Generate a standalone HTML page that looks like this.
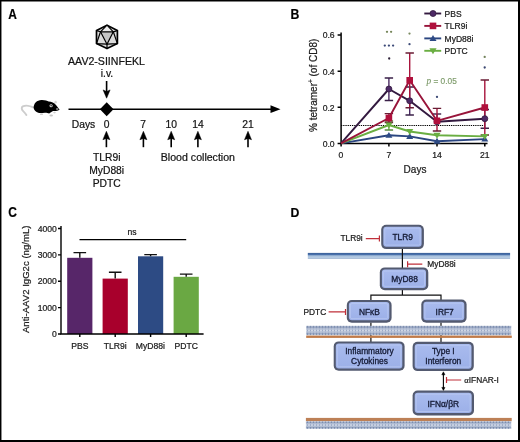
<!DOCTYPE html>
<html><head><meta charset="utf-8">
<style>
html,body{margin:0;padding:0;background:#fff;}
body{width:520px;height:442px;overflow:hidden;position:relative;}
svg{position:absolute;left:0;top:0;filter:blur(0.42px);}
text{font-family:"Liberation Sans",sans-serif;stroke:#1a1a1a;stroke-width:0.22px;}
</style></head><body>
<svg width="520" height="442" viewBox="0 0 520 442">
<rect x="0" y="0" width="520" height="442" fill="#fff"/>
<!-- ============ PANEL A ============ -->
<text transform="translate(8.2,19) scale(0.865,1)" font-size="13.8" font-weight="bold">A</text>
<!-- icosahedron -->
<g stroke="#000" stroke-linejoin="round">
  <polygon points="107,25.2 117.4,30.6 117.4,43.6 107,48.6 96.5,43.6 96.5,30.6" fill="#dcdcdc" stroke-width="1.7"/>
  <polygon points="107,25.2 113.3,31.8 100.5,31.8" fill="#ececec" stroke="none"/>
  <polygon points="100.5,31.8 113.3,31.8 107,44.2" fill="#c6c6c6" stroke-width="1.2"/>
  <path d="M107,25.2L100.5,31.8M107,25.2L113.3,31.8M96.5,30.6L100.5,31.8M117.4,30.6L113.3,31.8M96.5,43.6L100.5,31.8M96.5,43.6L107,44.2M117.4,43.6L113.3,31.8M117.4,43.6L107,44.2M107,48.6L107,44.2" fill="none" stroke-width="1.2"/>
</g>
<g font-size="10.3" fill="#111" text-anchor="middle">
  <text x="106.5" y="64.6" font-size="10.6">AAV2-SIINFEKL</text>
  <text x="107" y="77.2">i.v.</text>
</g>
<!-- down arrow -->
<path d="M106.6,81V93" stroke="#000" stroke-width="1.6"/>
<path d="M103.1,89.9L106.6,98.2L110.1,89.9L106.6,91.6Z" fill="#000" stroke="#000" stroke-width="0.5" stroke-linejoin="round"/>
<!-- mouse -->
<g>
  <path d="M33.8,107.6 C30.5,105.8 25.5,105.1 22.8,106.4 C21.2,107.4 21.4,109.6 23.4,111.4 C24.7,112.6 25.7,113.8 26.4,115" stroke="#cdcdcd" stroke-width="1.9" fill="none" stroke-linecap="round"/>
  <path d="M33.6,107.8 C33.8,103.2 36.8,100.2 41.5,100 C45,99.9 47.2,100.8 48.6,101.6 C51.5,101.6 54.2,102.8 56.2,105.2 L59.6,109.8 C58.2,110.9 55.8,111.2 53.2,111.1 C51.5,111.6 50.5,112.8 49.2,113.6 C47.8,113.2 46.6,112.6 45,112.7 C42.5,113 40,113.4 38.2,112.8 C36,112.2 34.2,110.6 33.6,107.8 Z" fill="#000"/>
  <circle cx="51.1" cy="105.7" r="1.55" fill="#e6e6e6"/>
  <circle cx="51.1" cy="105.7" r="0.75" fill="#000"/>
  <ellipse cx="57.2" cy="109" rx="1.3" ry="0.8" fill="#bdbdbd"/>
  <ellipse cx="55.6" cy="102.2" rx="1.2" ry="1.4" fill="#d6d6d6"/>
  <ellipse cx="51.2" cy="115.4" rx="1.8" ry="1" fill="#c8c8c8"/>
  <ellipse cx="41.5" cy="114.2" rx="1.6" ry="0.9" fill="#cfcfcf"/>
  <ellipse cx="54.5" cy="112.6" rx="1.3" ry="0.8" fill="#d0d0d0"/>
</g>
<!-- timeline -->
<path d="M68.5,109.2H277" stroke="#000" stroke-width="1.5"/>
<path d="M270.5,105.3L280.5,109.2L270.5,113.1Z" fill="#000"/>
<path d="M106.7,102.3L113.5,109.3L106.7,116.3L99.9,109.3Z" fill="#000"/>
<g font-size="10.3" fill="#111">
  <text x="71.8" y="127.8">Days</text>
  <g text-anchor="middle">
    <text x="106.7" y="127.8">0</text>
    <text x="143.1" y="127.8">7</text>
    <text x="171.2" y="127.8">10</text>
    <text x="197.9" y="127.8">14</text>
    <text x="248" y="127.8">21</text>
    <text x="106.7" y="161">TLR9i</text>
    <text x="106.7" y="174">MyD88i</text>
    <text x="106.7" y="187">PDTC</text>
  </g>
  <text x="160.8" y="160.5" font-size="10.6">Blood collection</text>
</g>
<path d="M106.4,136V147.2" stroke="#000" stroke-width="1.6"/>
<path d="M102.9,139.7L106.4,131.3L109.9,139.7L106.4,138.4Z" fill="#000" stroke="#000" stroke-width="0.5" stroke-linejoin="round"/>
<path d="M143.4,136V147.2" stroke="#000" stroke-width="1.6"/>
<path d="M139.9,139.7L143.4,131.3L146.9,139.7L143.4,138.4Z" fill="#000" stroke="#000" stroke-width="0.5" stroke-linejoin="round"/>
<path d="M171.2,136V147.2" stroke="#000" stroke-width="1.6"/>
<path d="M167.7,139.7L171.2,131.3L174.7,139.7L171.2,138.4Z" fill="#000" stroke="#000" stroke-width="0.5" stroke-linejoin="round"/>
<path d="M197.9,136V147.2" stroke="#000" stroke-width="1.6"/>
<path d="M194.4,139.7L197.9,131.3L201.4,139.7L197.9,138.4Z" fill="#000" stroke="#000" stroke-width="0.5" stroke-linejoin="round"/>
<path d="M248,136V147.2" stroke="#000" stroke-width="1.6"/>
<path d="M244.5,139.7L248,131.3L251.5,139.7L248,138.4Z" fill="#000" stroke="#000" stroke-width="0.5" stroke-linejoin="round"/>



<!-- ============ PANEL B ============ -->
<text transform="translate(290.5,18.5) scale(0.84,1)" font-size="14.6" font-weight="bold">B</text>
<!-- dashed 0.1 line -->
<path d="M341,125.5H484.5" stroke="#000" stroke-width="1.1" stroke-dasharray="1.3,0.9"/>
<!-- axes -->
<g stroke="#000" stroke-width="1.5" fill="none">
  <path d="M341.1,32.5V143.4H487.5"/>
  <path d="M337.6,35.1H341M337.6,71.2H341M337.6,107.3H341M337.6,143.4H341"/>
  <path d="M341.1,143.4V146.6M388.9,143.4V146.6M437,143.4V146.6M484.8,143.4V146.6"/>
</g>
<g font-size="8.6" fill="#222" text-anchor="end">
  <text x="334.6" y="38.4">0.6</text>
  <text x="334.6" y="74.5">0.4</text>
  <text x="334.6" y="110.6">0.2</text>
  <text x="334.6" y="146.7">0.0</text>
</g>
<g font-size="8.6" fill="#222" text-anchor="middle">
  <text x="341" y="158.2">0</text>
  <text x="388.9" y="158.2">7</text>
  <text x="437" y="158.2">14</text>
  <text x="484.8" y="158.2">21</text>
</g>
<text x="415" y="172.9" font-size="10" fill="#222" text-anchor="middle">Days</text>
<text transform="translate(316.8,85.3) rotate(-90)" font-size="10" fill="#222" text-anchor="middle">% tetramer<tspan font-size="6.5" dy="-3.5">+</tspan><tspan dy="3.5"> (of CD8)</tspan></text>
<!-- stars -->
<circle cx="387" cy="31.8" r="1.15" fill="#76865a"/>
<circle cx="391.1" cy="31.8" r="1.15" fill="#76865a"/>
<circle cx="384.8" cy="45.6" r="1.15" fill="#3c4a78"/>
<circle cx="388.9" cy="45.6" r="1.15" fill="#3c4a78"/>
<circle cx="393.1" cy="45.6" r="1.15" fill="#3c4a78"/>
<circle cx="389.2" cy="58.5" r="1.15" fill="#2e2238"/>
<circle cx="409.5" cy="33.6" r="1.15" fill="#7a8a60"/>
<circle cx="409.5" cy="44.2" r="1.15" fill="#3e4c78"/>
<circle cx="437" cy="96.9" r="1.15" fill="#3e4c78"/>
<circle cx="484.7" cy="56.9" r="1.15" fill="#72825a"/>
<circle cx="484.7" cy="67.5" r="1.15" fill="#3a4670"/>
<text x="426.5" y="83.8" font-size="8.3" fill="#7f9c6c" style="stroke:#7f9c6c;stroke-width:0.15px"><tspan font-family="Liberation Serif" font-style="italic" font-size="9.3">p</tspan> = 0.05</text>

<path d="M388.9,121V130" stroke="#6aae42" stroke-width="1.4" fill="none"/>
<path d="M384.7,121h8.4M384.7,130h8.4" stroke="#5a8a40" stroke-width="1.4" fill="none"/>
<path d="M388.9,78.0V100.5" stroke="#4a2a62" stroke-width="1.4" fill="none"/>
<path d="M384.7,78.0h8.4M384.7,100.5h8.4" stroke="#3a2048" stroke-width="1.4" fill="none"/>
<path d="M409.7,87V115" stroke="#4a2a62" stroke-width="1.4" fill="none"/>
<path d="M405.5,87h8.4M405.5,115h8.4" stroke="#3a2048" stroke-width="1.4" fill="none"/>
<path d="M437.0,114V121.8" stroke="#4a2a62" stroke-width="1.4" fill="none"/>
<path d="M432.8,114h8.4" stroke="#3a2048" stroke-width="1.4" fill="none"/>
<path d="M484.8,109.5V128.2" stroke="#4a2a62" stroke-width="1.4" fill="none"/>
<path d="M480.6,109.5h8.4M480.6,128.2h8.4" stroke="#3a2048" stroke-width="1.4" fill="none"/>
<path d="M388.9,113.6V122.5" stroke="#a8143c" stroke-width="1.4" fill="none"/>
<path d="M384.7,113.6h8.4M384.7,122.5h8.4" stroke="#6a1c34" stroke-width="1.4" fill="none"/>
<path d="M409.7,53.0V107.8" stroke="#a8143c" stroke-width="1.4" fill="none"/>
<path d="M405.5,53.0h8.4M405.5,107.8h8.4" stroke="#6a1c34" stroke-width="1.4" fill="none"/>
<path d="M437.0,108.4V131.0" stroke="#a8143c" stroke-width="1.4" fill="none"/>
<path d="M432.8,108.4h8.4M432.8,131.0h8.4" stroke="#6a1c34" stroke-width="1.4" fill="none"/>
<path d="M484.8,80.0V135" stroke="#a8143c" stroke-width="1.4" fill="none"/>
<path d="M480.6,80.0h8.4M480.6,135h8.4" stroke="#6a1c34" stroke-width="1.4" fill="none"/>
<polyline points="341.0,143.4 388.9,135.3 409.7,136.4 437.0,141.2 484.8,139.1" fill="none" stroke="#2a4580" stroke-width="1.9" stroke-linejoin="round"/>
<polyline points="341.0,143.4 388.9,125.0 409.7,131.5 437.0,135.3 484.8,136.4" fill="none" stroke="#6aae42" stroke-width="1.9" stroke-linejoin="round"/>
<polyline points="341.0,143.4 388.9,89.0 409.7,100.8 437.0,121.8 484.8,118.7" fill="none" stroke="#33193f" stroke-width="1.9" stroke-linejoin="round"/>
<polyline points="341.0,143.4 388.9,118.0 409.7,80.3 437.0,120.8 484.8,107.5" fill="none" stroke="#98143a" stroke-width="1.9" stroke-linejoin="round"/>
<path d="M388.9,131.9L392.4,137.8L385.4,137.8Z" fill="#2d4a85"/>
<path d="M409.7,133.0L413.2,138.9L406.2,138.9Z" fill="#2d4a85"/>
<path d="M437.0,137.8L440.5,143.7L433.5,143.7Z" fill="#2d4a85"/>
<path d="M484.8,135.7L488.3,141.6L481.3,141.6Z" fill="#2d4a85"/>
<path d="M388.9,128.4L392.5,122.5L385.3,122.5Z" fill="#6aae42"/>
<path d="M409.7,134.9L413.3,129.0L406.1,129.0Z" fill="#6aae42"/>
<path d="M437.0,138.7L440.6,132.8L433.4,132.8Z" fill="#6aae42"/>
<path d="M484.8,139.8L488.4,133.9L481.2,133.9Z" fill="#6aae42"/>
<circle cx="388.9" cy="89.0" r="3.0" fill="#4e2a66" stroke="#33193f" stroke-width="0.8"/>
<circle cx="409.7" cy="100.8" r="3.0" fill="#4e2a66" stroke="#33193f" stroke-width="0.8"/>
<circle cx="437.0" cy="121.8" r="3.0" fill="#4e2a66" stroke="#33193f" stroke-width="0.8"/>
<circle cx="484.8" cy="118.7" r="3.0" fill="#4e2a66" stroke="#33193f" stroke-width="0.8"/>
<rect x="385.6" y="114.7" width="6.6" height="6.6" fill="#b0103c"/>
<rect x="406.4" y="77.0" width="6.6" height="6.6" fill="#b0103c"/>
<rect x="433.7" y="117.5" width="6.6" height="6.6" fill="#b0103c"/>
<rect x="481.5" y="104.2" width="6.6" height="6.6" fill="#b0103c"/>
<path d="M424.3,13.5H441.2" stroke="#33193f" stroke-width="1.9"/>
<circle cx="433.0" cy="13.5" r="3.0" fill="#4e2a66" stroke="#33193f" stroke-width="0.8"/>
<text x="444.6" y="16.6" font-size="8.5" fill="#1a1a1a">PBS</text>
<path d="M424.3,25.9H441.2" stroke="#98143a" stroke-width="1.9"/>
<rect x="429.7" y="22.6" width="6.6" height="6.6" fill="#b0103c"/>
<text x="444.6" y="29.1" font-size="8.5" fill="#1a1a1a">TLR9i</text>
<path d="M424.3,38.4H441.2" stroke="#2a4580" stroke-width="1.9"/>
<path d="M433.0,35.0L436.5,40.9L429.5,40.9Z" fill="#2d4a85"/>
<text x="444.6" y="41.5" font-size="8.5" fill="#1a1a1a">MyD88i</text>
<path d="M424.3,50.8H441.2" stroke="#6aae42" stroke-width="1.9"/>
<path d="M433.0,54.2L436.6,48.3L429.4,48.3Z" fill="#6aae42"/>
<text x="444.6" y="53.9" font-size="8.5" fill="#1a1a1a">PDTC</text>
<!-- ============ PANEL C ============ -->
<text transform="translate(8.3,216.7) scale(0.8,1)" font-size="15" font-weight="bold">C</text>
<rect x="67.2" y="257.8" width="25.2" height="76.2" fill="#572669"/>
<path d="M79.8,257.8V252.6M73.5,252.6h12.6" stroke="#111" stroke-width="1.4" fill="none"/>
<rect x="102.6" y="278.6" width="25.2" height="55.4" fill="#a8002c"/>
<path d="M115.2,278.6V272.2M108.9,272.2h12.6" stroke="#111" stroke-width="1.4" fill="none"/>
<rect x="138" y="256.3" width="25.2" height="77.7" fill="#2d4b84"/>
<path d="M150.6,256.3V254.6M144.3,254.6h12.6" stroke="#111" stroke-width="1.4" fill="none"/>
<rect x="173.6" y="276.8" width="25.2" height="57.2" fill="#6aa843"/>
<path d="M186.2,276.8V274.1M179.9,274.1h12.6" stroke="#111" stroke-width="1.4" fill="none"/>
<g stroke="#000" stroke-width="1.4" fill="none">
  <path d="M61,226V334H203.6"/>
  <path d="M58,228.5H61M58,254.9H61M58,281.2H61M58,307.6H61M58,334H61"/>
  <path d="M79.8,334V337M115.2,334V337M150.6,334V337M186.2,334V337"/>
</g>
<path d="M79.5,239.6H186.2" stroke="#000" stroke-width="1.2"/>
<text x="132" y="234.6" font-size="8.6" fill="#222" text-anchor="middle">ns</text>
<g font-size="8.6" fill="#222" text-anchor="end">
  <text x="56.8" y="231.6">4000</text>
  <text x="56.8" y="258">3000</text>
  <text x="56.8" y="284.3">2000</text>
  <text x="56.8" y="310.7">1000</text>
  <text x="56.8" y="337.1">0</text>
</g>
<g font-size="8.6" fill="#222" text-anchor="middle">
  <text x="79.8" y="349">PBS</text>
  <text x="115.2" y="349">TLR9i</text>
  <text x="150.4" y="349">MyD88i</text>
  <text x="186.2" y="349">PDTC</text>
</g>
<text transform="translate(29.4,279.3) rotate(-90)" font-size="9.6" fill="#222" text-anchor="middle">Anti-AAV2 IgG2c (ng/mL)</text>
<!-- ============ PANEL D ============ -->
<defs>
<linearGradient id="bg" x1="0" y1="0" x2="0" y2="1">
 <stop offset="0" stop-color="#a9bbee"/><stop offset="1" stop-color="#9cb0e8"/>
</linearGradient>
<linearGradient id="mb" x1="0" y1="0" x2="0" y2="1">
 <stop offset="0" stop-color="#3a5f98"/><stop offset="0.3" stop-color="#4a72ac"/><stop offset="0.5" stop-color="#a8c1dd"/><stop offset="0.85" stop-color="#b6cbe2"/><stop offset="1" stop-color="#8aa3c6"/>
</linearGradient>
<pattern id="lip" x="0" y="325.8" width="3" height="9.4" patternUnits="userSpaceOnUse">
 <rect width="3" height="9.4" fill="#dde3ee"/>
 <ellipse cx="1.5" cy="1.3" rx="1.3" ry="1.2" fill="#7a8cae"/>
 <ellipse cx="1.5" cy="8.1" rx="1.3" ry="1.2" fill="#7a8cae"/>
 <path d="M0.4,2.6L2.6,6.8M2.6,2.6L0.4,6.8" stroke="#8e9ebe" stroke-width="0.8"/>
</pattern>
<pattern id="lip2" x="0" y="421.3" width="3" height="7.6" patternUnits="userSpaceOnUse">
 <rect width="3" height="7.6" fill="#dde3ee"/>
 <ellipse cx="1.5" cy="1.2" rx="1.3" ry="1.1" fill="#7a8cae"/>
 <ellipse cx="1.5" cy="6.4" rx="1.3" ry="1.1" fill="#7a8cae"/>
 <path d="M0.4,2.3L2.6,5.3M2.6,2.3L0.4,5.3" stroke="#8e9ebe" stroke-width="0.8"/>
</pattern>
</defs>
<text transform="translate(290.6,216.5) scale(0.915,1)" font-size="13.4" font-weight="bold">D</text>
<rect x="307.8" y="252.9" width="202.3" height="5.9" fill="url(#mb)"/>
<g stroke="#111" stroke-width="1.2" fill="none">
 <path d="M402.4,249V268.5"/>
 <path d="M402.4,290V295.2M370.9,301V295.2H441V300.5"/>
 <path d="M370.9,322.5V342.5"/>
 <path d="M441,322.5V342.8"/>
</g>
<rect x="306.2" y="325.8" width="205.0" height="9.4" fill="url(#lip)"/>
<rect x="306.2" y="335.6" width="205.6" height="2.3" fill="#c07a48"/>
<rect x="305.9" y="417.9" width="205.8" height="3.3" fill="#bd8056"/>
<rect x="305.9" y="421.3" width="205.3" height="7.6" fill="url(#lip2)"/>
<rect x="381.2" y="224.7" width="42.7" height="24.4" rx="5" fill="#535a70"/>
<rect x="383.3" y="226.8" width="38.3" height="19.9" rx="3" fill="url(#bg)"/>
<rect x="384.8" y="228.3" width="35.3" height="16.8" rx="1.5" fill="none" stroke="#bccaf2" stroke-width="0.7"/>
<text x="402.7" y="240.3" font-size="8.4" fill="#141a34" style="stroke:#141a34;stroke-width:0.3px" text-anchor="middle">TLR9</text>

<rect x="379.8" y="267.4" width="48.5" height="22.9" rx="5" fill="#535a70"/>
<rect x="381.9" y="269.5" width="44.1" height="18.4" rx="3" fill="url(#bg)"/>
<rect x="383.4" y="271.0" width="41.1" height="15.3" rx="1.5" fill="none" stroke="#bccaf2" stroke-width="0.7"/>
<text x="404.6" y="282.3" font-size="8.4" fill="#141a34" style="stroke:#141a34;stroke-width:0.3px" text-anchor="middle">MyD88</text>

<rect x="346.8" y="300.0" width="44.8" height="22.7" rx="5" fill="#535a70"/>
<rect x="348.9" y="302.1" width="40.4" height="18.2" rx="3" fill="url(#bg)"/>
<rect x="350.4" y="303.6" width="37.4" height="15.1" rx="1.5" fill="none" stroke="#bccaf2" stroke-width="0.7"/>
<text x="369.4" y="314.8" font-size="8.4" fill="#141a34" style="stroke:#141a34;stroke-width:0.3px" text-anchor="middle">NF&#954;B</text>

<rect x="421.3" y="299.6" width="45.3" height="23.1" rx="5" fill="#535a70"/>
<rect x="423.4" y="301.7" width="40.9" height="18.6" rx="3" fill="url(#bg)"/>
<rect x="424.9" y="303.2" width="37.9" height="15.5" rx="1.5" fill="none" stroke="#bccaf2" stroke-width="0.7"/>
<text x="444.7" y="314.6" font-size="8.4" fill="#141a34" style="stroke:#141a34;stroke-width:0.3px" text-anchor="middle">IRF7</text>

<rect x="333.7" y="341.4" width="70.9" height="29.4" rx="5" fill="#535a70"/>
<rect x="335.8" y="343.5" width="66.5" height="24.9" rx="3" fill="url(#bg)"/>
<rect x="337.3" y="345.0" width="63.5" height="21.8" rx="1.5" fill="none" stroke="#bccaf2" stroke-width="0.7"/>
<text x="369.5" y="353.7" font-size="8.4" fill="#141a34" style="stroke:#141a34;stroke-width:0.3px" text-anchor="middle">Inflammatory</text>
<text x="369.5" y="363.6" font-size="8.4" fill="#141a34" style="stroke:#141a34;stroke-width:0.3px" text-anchor="middle">Cytokines</text>

<rect x="412.6" y="341.8" width="61.2" height="29.3" rx="5" fill="#535a70"/>
<rect x="414.7" y="343.9" width="56.8" height="24.8" rx="3" fill="url(#bg)"/>
<rect x="416.2" y="345.4" width="53.8" height="21.7" rx="1.5" fill="none" stroke="#bccaf2" stroke-width="0.7"/>
<text x="443.3" y="353.8" font-size="8.4" fill="#141a34" style="stroke:#141a34;stroke-width:0.3px" text-anchor="middle">Type I</text>
<text x="443.3" y="363.7" font-size="8.4" fill="#141a34" style="stroke:#141a34;stroke-width:0.3px" text-anchor="middle">Interferon</text>

<rect x="412.6" y="390.6" width="61.4" height="24.9" rx="5" fill="#535a70"/>
<rect x="414.7" y="392.7" width="57.0" height="20.4" rx="3" fill="url(#bg)"/>
<rect x="416.2" y="394.2" width="54.0" height="17.3" rx="1.5" fill="none" stroke="#bccaf2" stroke-width="0.7"/>
<text x="443.3" y="406.5" font-size="8.4" fill="#141a34" style="stroke:#141a34;stroke-width:0.3px" text-anchor="middle">IFN&#945;/&#946;R</text>

<g stroke="#c0303a" stroke-width="1.2" fill="none">
 <path d="M365.8,238.6H379.4M379.4,235.6V241.6"/>
 <path d="M407.6,264.2H422.3M407.6,261.2V267.2"/>
 <path d="M328.6,311.9H345.5M345.5,308.9V314.9"/>
 <path d="M446.5,380H461.2M446.5,377V383"/>
</g>
<path d="M443.4,373V389" stroke="#000" stroke-width="1.1"/>
<path d="M441.8,374.8L443.4,371.8L445,374.8Z M441.8,387.4L443.4,390.4L445,387.4Z" fill="#000" stroke="#000" stroke-width="0.5"/>
<g font-size="8.4" fill="#222">
 <text x="340.4" y="240.9">TLR9i</text>
 <text x="427.3" y="267.3">MyD88i</text>
 <text x="303.4" y="315">PDTC</text>
 <text x="464.3" y="383.1"><tspan font-family="Liberation Serif">&#945;</tspan>IFNAR-I</text>
</g>
<path d="M0.7,0V442M0,0.7H520" stroke="#000" stroke-width="1.5"/>
<path d="M519,0V442M0,441H520" stroke="#000" stroke-width="2"/>
</svg>
</body></html>
